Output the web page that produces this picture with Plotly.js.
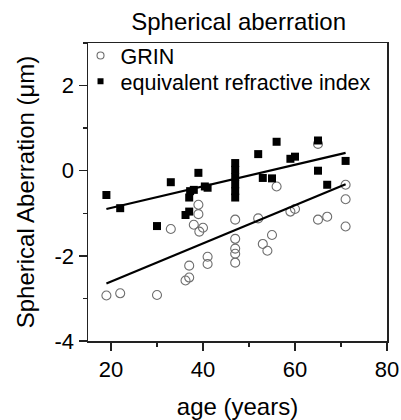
<!DOCTYPE html>
<html>
<head>
<meta charset="utf-8">
<script src="https://cdn.plot.ly/plotly-3.0.1.min.js"></script>
<style>html,body{margin:0;padding:0;background:#fff;}#chart{width:401px;height:420px;}</style>
</head>
<body>
<div id="chart"></div>
<script>
// GRIN (open circles)
const grinAge = [19, 22, 30, 33, 36.2, 37, 37, 38, 39, 39, 39.2, 40, 41, 41, 47, 47, 47, 47, 47, 52, 53, 54, 55, 56, 59, 60, 65, 65, 67, 71, 71, 71];
const grinSA  = [-2.93, -2.88, -2.92, -1.37, -2.58, -2.51, -2.23, -1.27, -0.80, -1.02, -1.43, -1.34, -2.02, -2.19, -1.15, -1.60, -1.83, -1.95, -2.16, -1.12, -1.72, -1.88, -1.51, -0.37, -0.96, -0.90, 0.63, -1.15, -1.08, -0.33, -0.67, -1.31];
// equivalent refractive index (filled squares)
const eqAge = [19, 22, 30, 33, 36.2, 37, 37, 37.2, 38, 39, 40.4, 41, 47, 47, 47, 47, 47, 47, 52, 53, 55, 56, 59, 60, 65, 65, 67, 71];
const eqSA  = [-0.57, -0.88, -1.30, -0.27, -1.04, -0.96, -0.63, -0.48, -0.45, -0.05, -0.37, -0.40, 0.18, 0.02, -0.15, -0.32, -0.48, -0.63, 0.39, -0.17, -0.18, 0.68, 0.28, 0.33, 0.71, 0.0, -0.33, 0.23];
// fitted lines (end points)
const fitAge = [19, 71];
const fitEq = [-0.90, 0.42];
const fitGrin = [-2.65, -0.32];
// axis ticks
const xTickVals = [20, 40, 60, 80];
const yTickVals = [-4, -2, 0, 2];
const yTickText = ['-4', '-2', '0', '2'];
// legend names
const nameGrin = 'GRIN';
const nameEq = 'equivalent refractive index';

const font = 'Liberation Sans, Arial, sans-serif';
const axCol = '#222';
const circCol = '#6e6e6e';

const data = [
  {x: grinAge, y: grinSA, type: 'scatter', mode: 'markers', name: nameGrin, showlegend: false,
   marker: {symbol: 'circle-open', size: 9, color: circCol, line: {width: 1.1, color: circCol}}},
  {x: eqAge, y: eqSA, type: 'scatter', mode: 'markers', name: nameEq, showlegend: false,
   marker: {symbol: 'square', size: 8, color: '#000'}},
  {x: fitAge, y: fitEq, type: 'scatter', mode: 'lines', showlegend: false,
   line: {color: '#000', width: 2.2}},
  {x: fitAge, y: fitGrin, type: 'scatter', mode: 'lines', showlegend: false,
   line: {color: '#000', width: 2.2}},
  // legend entries (smaller symbols, as in the reference legend)
  {x: [null], y: [null], type: 'scatter', mode: 'markers', name: nameGrin, legend: 'legend',
   marker: {symbol: 'circle-open', size: 7, color: circCol, line: {width: 1.1, color: circCol}}},
  {x: [null], y: [null], type: 'scatter', mode: 'markers', name: nameEq, legend: 'legend2',
   marker: {symbol: 'square', size: 6, color: '#000'}}
];

const legendCommon = {xanchor: 'left', yanchor: 'top', bgcolor: 'rgba(0,0,0,0)', itemsizing: 'trace',
  font: {family: font, size: 21.5, color: '#000'}};

const layout = {
  width: 401, height: 420,
  margin: {l: 88, r: 14, t: 43, b: 79},
  paper_bgcolor: '#fff', plot_bgcolor: '#fff',
  font: {family: font, color: '#000', size: 22},
  title: {text: 'Spherical aberration', font: {family: font, size: 24, color: '#000'},
          x: 0.595, xanchor: 'center', y: 0.948, yanchor: 'middle'},
  showlegend: true,
  legend: Object.assign({x: -0.025, y: 1.027}, legendCommon),
  legend2: Object.assign({x: -0.025, y: 0.94}, legendCommon),
  xaxis: {
    range: [15, 80], tickvals: xTickVals, ticks: 'outside', ticklen: 8, tickwidth: 1.5, tickcolor: axCol,
    showline: true, linecolor: axCol, linewidth: 1.5, mirror: true, showgrid: false, zeroline: false,
    tickfont: {family: font, size: 22, color: '#000'},
    minor: {dtick: 10, ticks: 'outside', ticklen: 4, tickwidth: 1.5, tickcolor: axCol, showgrid: false},
    title: {text: 'age (years)', font: {family: font, size: 24, color: '#000'}, standoff: 18}
  },
  yaxis: {
    range: [-4, 3], tickvals: yTickVals, ticktext: yTickText, ticks: 'outside', ticklen: 8, tickwidth: 1.5, tickcolor: axCol,
    showline: true, linecolor: axCol, linewidth: 1.5, mirror: true, showgrid: false, zeroline: false,
    tickfont: {family: font, size: 22, color: '#000'},
    minor: {dtick: 1, ticks: 'outside', ticklen: 4, tickwidth: 1.5, tickcolor: axCol, showgrid: false},
    title: {text: 'Spherical Aberration (μm)', font: {family: font, size: 24, color: '#000'}, standoff: 13}
  }
};

Plotly.newPlot('chart', data, layout, {displayModeBar: false, staticPlot: true});
</script>
</body>
</html>
